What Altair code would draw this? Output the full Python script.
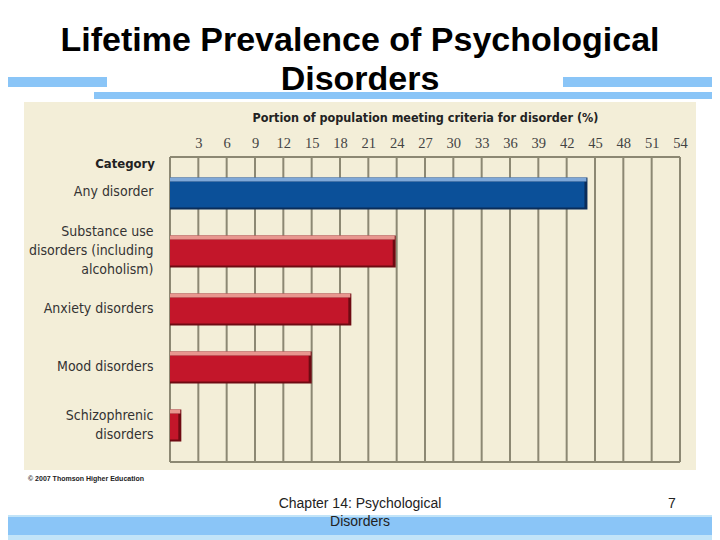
import altair as alt
import pandas as pd

# ---- data ----
categories = [
    "Any disorder",
    "Substance use|disorders (including|alcoholism)",
    "Anxiety disorders",
    "Mood disorders",
    "Schizophrenic|disorders",
]
values = [44.2, 23.9, 19.2, 15.0, 1.2]
tick_labels = [3, 6, 9, 12, 15, 18, 21, 24, 27, 30, 33, 36, 39, 42, 45, 48, 51, 54]
grid_values = [0] + tick_labels

df = pd.DataFrame({"category": categories, "value": values})
grid_df = pd.DataFrame({"tick": grid_values})
one = pd.DataFrame({"k": [0]})

W, H = 510, 305
NARROW = "Liberation Sans Narrow, DejaVu Sans Condensed, sans-serif"
SERIF = "Liberation Serif, DejaVu Serif, serif"
ARIAL = "Liberation Sans, Arial, sans-serif"

BLUE, BLUE_D, BLUE_L = "#0b5099", "#0a2d5a", "#7fa8d8"
RED, RED_D, RED_L = "#c3162a", "#6e0a12", "#e8968f"
GRID = "#8c8873"
PANEL = "#f3eed8"
SKY = "#8ac5f7"

xscale = alt.Scale(domain=[0, 54], nice=False, zero=True)
is_any = alt.datum.category == "Any disorder"

xaxis = alt.Axis(
    orient="top", values=tick_labels, grid=False, ticks=False, domain=False,
    labelFont=SERIF, labelFontSize=14.5, labelColor="#444444", labelPadding=7,
    labelFlush=False, labelOverlap=False,
    title="Portion of population meeting criteria for disorder (%)",
    titleFont=NARROW, titleFontSize=12.5, titleFontWeight="bold",
    titleColor="#222222", titlePadding=11, zindex=1,
)


def rect(x, x2, y, y2, color):
    return alt.Chart(one).mark_rect(color=color).encode(
        x=alt.value(x), x2=alt.value(x2), y=alt.value(y), y2=alt.value(y2)
    )


def txt(s, x, y, **kw):
    return alt.Chart(one).mark_text(text=s, **kw).encode(x=alt.value(x), y=alt.value(y))


# decorative slide elements
panel = rect(-146, 526, -55, 313, PANEL)
bar_left = rect(-162, -63, -80, -70, SKY)
bar_long = rect(-76, 542, -65, -58, SKY)
bar_right = rect(393, 542, -80, -70, SKY)
band_out = rect(-162, 542, 358, 383, "#c2e4f8")
band_in = rect(-162, 542, 360, 378, SKY)

title = txt(
    ["Lifetime Prevalence of Psychological", "Disorders"], 190, -106,
    font=ARIAL, fontSize=34, fontWeight="bold", color="#000000",
    align="center", baseline="alphabetic", lineHeight=39,
)
footer1 = txt("Chapter 14: Psychological", 190, 347, font=ARIAL, fontSize=14,
              color="#222222", align="center", baseline="middle")
footer2 = txt("Disorders", 190, 365, font=ARIAL, fontSize=14,
              color="#222222", align="center", baseline="middle")
page_no = txt("7", 502, 347, font=ARIAL, fontSize=14, color="#222222",
              align="center", baseline="middle")
copyright_t = txt("© 2007 Thomson Higher Education", -142, 322, font=ARIAL,
                  fontSize=7, fontWeight="bold", color="#222222",
                  align="left", baseline="middle")
cat_head = txt("Category", -15, 7, font=NARROW, fontSize=13, fontWeight="bold",
               color="#222222", align="right", baseline="middle")

# grid lines and frame
grid = alt.Chart(grid_df).mark_rule(color=GRID, strokeWidth=2).encode(
    x=alt.X("tick:Q", scale=xscale, axis=xaxis)
)
frame_top = alt.Chart(one).mark_rule(color=GRID, strokeWidth=2).encode(
    x=alt.value(0), x2=alt.value(W), y=alt.value(0)
)
frame_bot = alt.Chart(one).mark_rule(color=GRID, strokeWidth=2).encode(
    x=alt.value(0), x2=alt.value(W), y=alt.value(H)
)

# bars
yenc = alt.Y(
    "category:N", sort=None, title=None,
    scale=alt.Scale(paddingInner=0.448, paddingOuter=0.353),
    axis=alt.Axis(
        labelExpr="split(datum.label, '|')", labelFont=NARROW, labelFontSize=14,
        labelColor="#333333", labelPadding=17, labelLineHeight=19,
        labelOffset={"condition": {"test": "length(split(datum.label, '|')) == 3", "value": -19}, "value": -1},
        labelBaseline={"condition": {"test": "length(split(datum.label, '|')) == 2", "value": "line-bottom"}, "value": "middle"},
        ticks=False, domain=False, grid=False, labelLimit=300, zindex=1,
    ),
)
xenc = alt.X("value:Q", scale=xscale, axis=xaxis)
base = alt.Chart(df).encode(y=yenc)
dark = base.mark_bar().encode(
    x=xenc, color=alt.condition(is_any, alt.value(BLUE_D), alt.value(RED_D))
)
face = base.mark_bar(height=26, yOffset=1, xOffset=-3, clip=True).encode(
    x=xenc,
    color=alt.condition(is_any, alt.value(BLUE), alt.value(RED)),
)
top = base.mark_bar(height=4, yOffset=-14, xOffset=-1, clip=True).encode(
    x=xenc,
    color=alt.condition(is_any, alt.value(BLUE_L), alt.value(RED_L)),
)

chart = alt.layer(
    panel, bar_left, bar_long, bar_right, band_out, band_in,
    grid, frame_top, frame_bot, dark, face, top,
    title, footer1, footer2, page_no, copyright_t, cat_head,
).properties(
    width=W, height=H,
    padding={"left": 162, "top": 149, "right": 32, "bottom": 78},
    autosize=alt.AutoSizeParams(type="none"),
    background="white",
).configure_view(stroke=None)

chart.save("out.html", embed_options={"renderer": "svg", "actions": False})
